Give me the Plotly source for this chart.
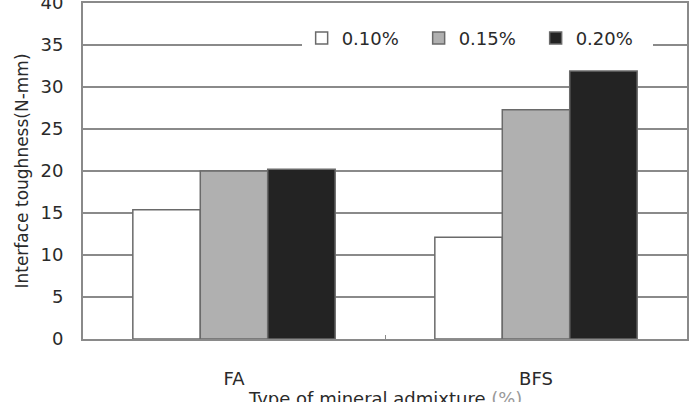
import plotly.graph_objects as go

categories = ["FA", "BFS"]
series_names = ["0.10%", "0.15%", "0.20%"]
vals_010 = [15.4, 12.1]
vals_015 = [20.0, 27.3]
vals_020 = [20.2, 31.9]
y_ticks = [0, 5, 10, 15, 20, 25, 30, 35, 40]

colors = ["#ffffff", "#b0b0b0", "#232323"]
font_fam = "DejaVu Sans, sans-serif"
txt = "#2a2a2a"

fig = go.Figure()
for name, vals, col in zip(series_names, [vals_010, vals_015, vals_020], colors):
    fig.add_trace(go.Bar(
        x=categories, y=vals, name=name,
        marker=dict(color=col, line=dict(color="#6a6a6a", width=1.5)),
    ))

fig.update_layout(
    width=697, height=402,
    margin=dict(l=83, r=10, t=3, b=63, autoexpand=False),
    paper_bgcolor="white", plot_bgcolor="white",
    barmode="group", bargap=0.33, bargroupgap=0,
    font=dict(family=font_fam, size=17, color=txt),
    showlegend=True,
    legend=dict(
        orientation="h", x=0.362, xanchor="left", y=0.895, yanchor="middle",
        bgcolor="white", entrywidth=72, entrywidthmode="pixels",
        font=dict(size=18, color=txt), itemwidth=30,
        traceorder="normal",
    ),
    annotations=[dict(
        text="Type of mineral admixture <span style='color:#999999'>(%)</span>",
        xref="paper", yref="paper", x=0.5, y=-0.178, xanchor="center", yanchor="middle",
        showarrow=False, font=dict(size=18, color=txt),
    )],
)
fig.update_xaxes(
    type="category", showline=True, linecolor="#8a8a8a", linewidth=2, mirror=True,
    ticks="inside", tickson="boundaries", ticklen=4, tickcolor="#8a8a8a",
    ticklabelstandoff=22, showgrid=False, automargin=False,
    tickfont=dict(size=18),
)
fig.update_yaxes(
    range=[0, 40], tickvals=y_ticks, showline=True, linecolor="#8a8a8a", linewidth=2,
    mirror=True, showgrid=True, gridcolor="#8a8a8a", gridwidth=1.5,
    ticks="", ticklabelstandoff=14, zeroline=False, automargin=False,
    ticklabeloverflow="allow", tickfont=dict(size=18),
    title=dict(text="Interface toughness(N-mm)", standoff=8,
               font=dict(size=17, color=txt)),
)

fig.write_html("out.html")
